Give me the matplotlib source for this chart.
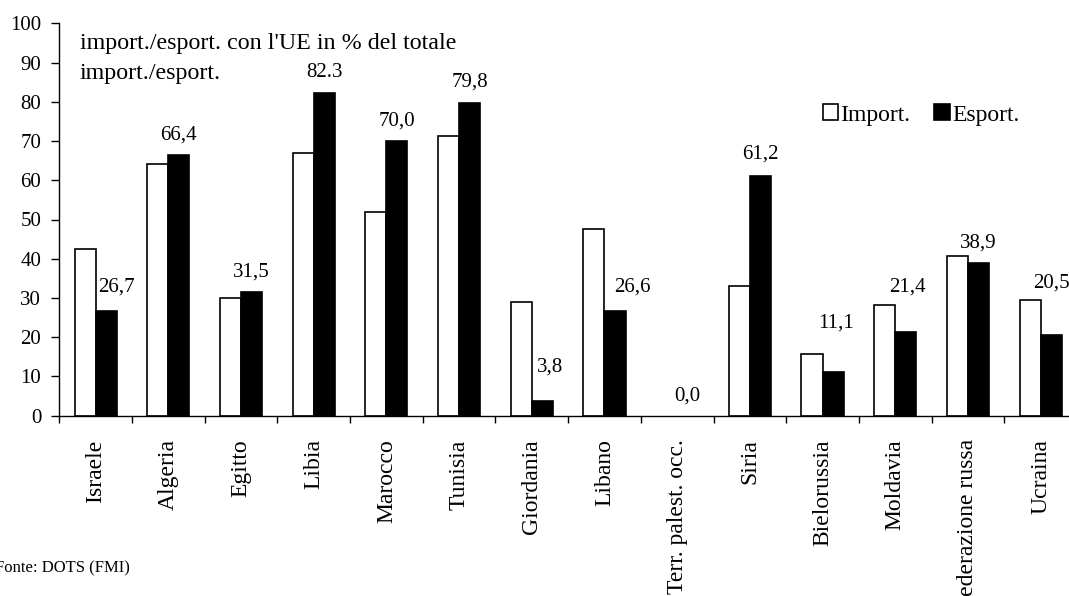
import matplotlib
matplotlib.use("Agg")
import matplotlib.pyplot as plt
import numpy as np

plt.rcParams['font.family'] = ['Liberation Serif', 'DejaVu Serif']

paesi = ["Israele", "Algeria", "Egitto", "Libia", "Marocco", "Tunisia", "Giordania",
		"Libano", "Terr. palest. occ.", "Siria", "Bielorussia", "Moldavia",
		"Federazione russa", "Ucraina"]
importazioni = [42.6, 64.1, 30.0, 67.0, 52.0, 71.4, 29.0, 47.7, 0.0, 33.0, 15.6, 28.1, 40.7, 29.4]
esportazioni = [26.7, 66.4, 31.5, 82.3, 70.0, 79.8, 3.8, 26.6, 0.0, 61.2, 11.1, 21.4, 38.9, 20.5]
etichette = ["26,7", "66,4", "31,5", "82.3", "70,0", "79,8", "3,8", "26,6", "0,0",
			"61,2", "11,1", "21,4", "38,9", "20,5"]

# posizione delle etichette (altezza in unita' dati, spostamento orizzontale in pixel)
label_y = [32.9, 71.5, 36.7, 87.4, 75.2, 85.1, 12.5, 32.9, 5.0, 66.7, 23.7, 32.9, 44.1, 33.9]
label_dx = [10, 0, 0, 0, 0, 0, 8, 17, 0, 0, 3, 2, 0, 0]

W, H = 1069, 596
fig = plt.figure(figsize=(W / 100, H / 100), dpi=100)
x0, y0, y1 = 59.3, 415.7, 23.3
passo = 72.69
ax = fig.add_axes([x0 / W, 1 - y0 / H, (W - x0) / W, (y0 - y1) / H])

n = len(paesi)
centri = np.arange(n) + 0.5
larg = 0.29
bordi_imp = ["black" if v > 0 else "none" for v in importazioni]
bordi_esp = ["black" if v > 0 else "none" for v in esportazioni]
ax.bar(centri - larg / 2, importazioni, larg, color="white", edgecolor=bordi_imp, linewidth=1.2,
	label="Import.", zorder=2)
ax.bar(centri + larg / 2, esportazioni, larg, color="black", edgecolor=bordi_esp, linewidth=1.2,
	label="Esport.", zorder=2)

for i in range(n):
	ax.annotate(etichette[i], (centri[i] + larg / 2, label_y[i]), xytext=(label_dx[i], 0),
		textcoords="offset pixels", ha="center", va="center", fontsize=15)

ax.set_xlim(0, (W - x0) / passo)
ax.set_ylim(0, 100)
ax.set_yticks(np.arange(0, 101, 10))
ax.set_xticks(np.arange(0, n))
ax.set_xticklabels([])
ax.set_xticks(centri, minor=True)
ax.set_xticklabels(paesi, minor=True, rotation=90, va="top", ha="center", fontsize=17)
ax.tick_params(axis="x", which="minor", length=0, pad=17)
ax.tick_params(axis="x", which="major", direction="out", length=5, width=1)
ax.tick_params(axis="y", direction="out", length=5.5, width=1, labelsize=15, pad=7.5)
for s in ["top", "right"]:
	ax.spines[s].set_visible(False)
for s in ["left", "bottom"]:
	ax.spines[s].set_linewidth(1)

fig.text(80 / W, 1 - 44 / H, "import./esport. con l'UE in % del totale", fontsize=17.3,
	ha="left", va="center")
fig.text(80 / W, 1 - 73 / H, "import./esport.", fontsize=17.3, ha="left", va="center")
fig.text(-5 / W, 1 - 568 / H, "Fonte: DOTS (FMI)", fontsize=12, ha="left", va="center")

legenda = ax.legend(loc="center", bbox_to_anchor=(921 / W, 1 - 115 / H),
	bbox_transform=fig.transFigure, ncol=2, frameon=False, fontsize=17, handlelength=0.65,
	handleheight=0.65, handletextpad=0.1, columnspacing=1.0, borderpad=0)

fig.savefig("out.png", dpi=100)
